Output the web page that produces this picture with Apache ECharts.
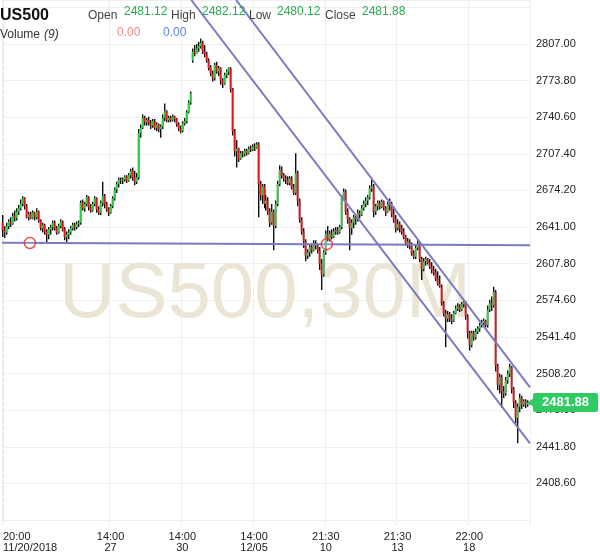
<!DOCTYPE html>
<html><head><meta charset="utf-8">
<script src="https://cdn.jsdelivr.net/npm/echarts@6/dist/echarts.min.js"></script>
<style>html,body{margin:0;padding:0;background:#fff}#c{width:600px;height:558px}</style>
</head><body><div id="c"></div>
<script>
const symbolName = 'US500';
const timeframe = '30M';
// x-axis tick labels (candle index, time line, date line)
const tickIndex = [0, 54, 90, 126, 162, 198, 234];
const tickTime = ['20:00', '14:00', '14:00', '14:00', '21:30', '21:30', '22:00'];
const tickDate = ['11/20/2018', '27', '30', '12/05', '10', '13', '18'];
// y-axis ticks
const yMin = 2375.4, yMax = 2846.9, yStep = 33.2;
// candles: [open, close, low, high]
const candles = [
[2645,2638,2632,2652],[2638,2636,2631,2642],[2636,2642,2634,2645],[2642,2646,2639,2648],[2646,2644,2641,2650],
[2644,2651,2643,2654],[2651,2649,2646,2656],[2649,2655,2647,2658],[2655,2658,2652,2661],[2658,2662,2656,2666],
[2662,2667,2660,2669],[2667,2660,2657,2668],[2660,2650,2649,2662],[2650,2653,2647,2655],[2653,2649,2648,2655],
[2649,2654,2648,2656],[2654,2650,2647,2655],[2650,2655,2648,2658],[2655,2647,2645,2656],[2647,2640,2638,2648],
[2640,2643,2636,2645],[2643,2637,2634,2644],[2637,2634,2627,2639],[2634,2639,2630,2641],[2639,2641,2634,2643],
[2641,2645,2638,2647],[2645,2640,2638,2647],[2640,2636,2634,2642],[2636,2642,2635,2644],[2642,2646,2640,2648],
[2646,2639,2637,2647],[2639,2632,2629,2641],[2632,2634,2626,2637],[2634,2636,2630,2639],[2636,2640,2634,2642],
[2640,2643,2638,2645],[2643,2641,2638,2645],[2641,2644,2639,2646],[2644,2645,2641,2647],[2645,2663,2643,2665],
[2663,2658,2656,2666],[2658,2662,2655,2664],[2662,2668,2660,2670],[2668,2659,2656,2669],[2659,2656,2654,2662],
[2656,2662,2655,2664],[2662,2667,2660,2669],[2667,2657,2654,2668],[2657,2654,2652,2660],[2654,2663,2652,2665],
[2663,2669,2660,2682],[2669,2662,2658,2671],[2662,2657,2655,2664],[2657,2654,2651,2659],[2654,2660,2653,2662],
[2660,2667,2658,2669],[2667,2675,2665,2677],[2675,2680,2672,2682],[2680,2684,2677,2686],[2684,2683,2680,2686],
[2683,2684,2680,2686],[2684,2687,2682,2688],[2687,2683,2681,2688],[2683,2688,2682,2690],[2688,2692,2685,2694],
[2692,2686,2683,2695],[2686,2682,2679,2692],[2682,2686,2680,2690],[2686,2726,2684,2730],[2726,2731,2722,2734],
[2731,2740,2730,2743],[2740,2736,2733,2742],[2736,2738,2733,2740],[2738,2735,2733,2741],[2735,2733,2730,2738],
[2733,2737,2731,2739],[2737,2731,2729,2739],[2731,2734,2728,2736],[2734,2730,2727,2735],[2730,2732,2722,2734],
[2732,2740,2730,2743],[2740,2746,2737,2753],[2746,2738,2736,2747],[2738,2740,2736,2742],[2740,2738,2736,2742],
[2738,2741,2737,2743],[2741,2739,2736,2742],[2739,2734,2732,2740],[2734,2730,2728,2736],[2730,2728,2726,2733],
[2728,2735,2727,2737],[2735,2737,2733,2740],[2737,2745,2735,2747],[2745,2754,2744,2756],[2754,2762,2752,2764],
[2792,2800,2790,2803],[2800,2798,2796,2806],[2798,2803,2798,2807],[2803,2805,2800,2809],[2805,2808,2803,2812],
[2808,2800,2798,2810],[2800,2798,2795,2806],[2798,2792,2790,2800],[2792,2785,2783,2794],[2785,2780,2778,2788],
[2780,2776,2773,2783],[2776,2788,2774,2790],[2788,2782,2780,2791],[2782,2785,2778,2787],[2785,2774,2770,2786],
[2774,2771,2767,2776],[2771,2779,2770,2781],[2779,2782,2776,2784],[2782,2785,2779,2786],[2785,2766,2763,2786],
[2766,2728,2724,2767],[2728,2710,2705,2730],[2710,2712,2695,2720],[2712,2703,2700,2713],[2703,2708,2702,2710],
[2708,2707,2704,2710],[2707,2710,2705,2712],[2710,2708,2706,2712],[2708,2712,2707,2714],[2712,2711,2709,2715],
[2711,2714,2710,2716],[2714,2713,2710,2717],[2713,2716,2712,2718],[2716,2680,2650,2718],[2680,2670,2665,2683],
[2670,2678,2662,2680],[2678,2662,2658,2680],[2662,2665,2656,2670],[2665,2655,2652,2668],[2655,2645,2641,2658],
[2645,2655,2643,2662],[2655,2642,2620,2657],[2642,2662,2640,2665],[2662,2680,2660,2683],[2680,2693,2678,2697],
[2693,2688,2685,2696],[2688,2685,2682,2690],[2685,2684,2680,2688],[2684,2681,2679,2687],[2681,2685,2679,2687],
[2685,2677,2675,2687],[2677,2672,2670,2680],[2672,2690,2670,2708],[2690,2665,2660,2692],[2665,2648,2645,2667],
[2648,2637,2634,2650],[2637,2628,2622,2640],[2628,2615,2610,2630],[2615,2618,2612,2621],[2618,2623,2614,2625],
[2623,2620,2617,2626],[2620,2626,2619,2629],[2626,2624,2621,2629],[2624,2620,2617,2626],[2620,2608,2602,2623],
[2608,2598,2584,2612],[2598,2618,2596,2620],[2618,2635,2616,2638],[2635,2630,2628,2642],[2630,2635,2628,2638],
[2635,2632,2630,2639],[2632,2637,2631,2640],[2637,2638,2634,2641],[2638,2636,2634,2641],[2636,2641,2635,2643],
[2641,2667,2639,2670],[2667,2673,2665,2676],[2673,2655,2652,2675],[2655,2648,2644,2658],[2648,2640,2620,2650],
[2640,2645,2634,2648],[2645,2650,2640,2652],[2650,2648,2643,2652],[2648,2654,2646,2657],[2654,2652,2649,2656],
[2652,2658,2651,2661],[2658,2662,2656,2665],[2662,2665,2659,2668],[2665,2668,2661,2670],[2668,2676,2666,2679],
[2676,2678,2673,2684],[2678,2655,2650,2680],[2655,2660,2652,2662],[2660,2663,2656,2665],[2663,2659,2657,2665],
[2659,2664,2658,2666],[2664,2658,2656,2665],[2658,2655,2651,2660],[2655,2662,2654,2664],[2662,2660,2656,2667],
[2660,2653,2650,2664],[2653,2648,2645,2660],[2648,2640,2636,2652],[2640,2644,2638,2648],[2644,2640,2636,2646],
[2640,2637,2634,2643],[2637,2632,2630,2640],[2632,2626,2624,2634],[2626,2628,2622,2631],[2628,2625,2621,2630],
[2625,2617,2615,2627],[2617,2614,2612,2620],[2614,2622,2612,2625],[2622,2626,2620,2629],[2626,2612,2609,2627],
[2612,2603,2593,2614],[2603,2610,2601,2613],[2610,2612,2606,2614],[2612,2609,2607,2613],[2609,2605,2603,2612],
[2605,2602,2599,2609],[2602,2600,2597,2606],[2600,2594,2592,2603],[2594,2590,2588,2601],[2590,2587,2586,2597],
[2587,2572,2570,2589],[2572,2563,2560,2574],[2563,2558,2532,2566],[2558,2562,2555,2565],[2562,2558,2555,2564],
[2558,2556,2553,2562],[2556,2563,2555,2565],[2563,2567,2562,2570],[2567,2569,2565,2572],[2569,2566,2564,2571],
[2566,2571,2565,2573],[2571,2573,2568,2575],[2573,2560,2557,2574],[2560,2545,2540,2562],[2545,2534,2529,2547],
[2534,2545,2532,2547],[2545,2541,2538,2547],[2541,2546,2539,2549],[2546,2549,2544,2551],[2549,2552,2546,2554],
[2552,2554,2550,2557],[2554,2556,2551,2558],[2556,2552,2550,2557],[2552,2566,2550,2570],[2566,2572,2564,2575],
[2572,2570,2565,2578],[2570,2582,2568,2587],[2582,2515,2510,2584],[2515,2498,2493,2517],[2498,2505,2490,2508],
[2505,2492,2477,2507],[2492,2490,2486,2497],[2490,2502,2488,2505],[2502,2508,2499,2511],[2508,2514,2505,2517],
[2514,2494,2490,2515],[2494,2482,2477,2496],[2482,2468,2463,2484],[2468,2478,2445,2481],[2478,2486,2473,2490],
[2486,2480,2476,2488],[2480,2483,2478,2485],[2483,2480,2477,2485],[2480,2482,2478,2484],[2481.12,2481.88,2480.12,2482.12]
];
// drawn annotations: [candle index, price]
const trendA = [[94.5, 2846.9], [264.5, 2444.8]];
const trendB = [[117, 2846.9], [264.5, 2495.7]];
const hLine = [[-0.5, 2626.8], [264.5, 2624.5]];
const circles = [[13.5, 2626.6], [162.5, 2625.5]];

const last = candles[candles.length - 1];
const categories = candles.map((_, i) => String(i));
const candleRows = candles.map((c, i) => [i, c[0], c[1], c[2], c[3]]);
const showTick = (i) => tickIndex.indexOf(i) >= 0;

const UP = '#2ecc40', DOWN = '#e8141b', WICK = '#111', TXTGREEN = '#2aa952', LINE = '#7b7bc2', TAG = '#2fcb62';
const chart = echarts.init(document.getElementById('c'), null, {renderer: 'canvas'});
const hdr = (x, y, text, fill, font) => ({type: 'text', x, y, z: 100,
  style: {text, fill, font: font || '12px Arial', textBaseline: 'middle', textAlign: 'left'}});

function renderCandle(params, api) {
  const i = api.value(0), o = api.value(1), c = api.value(2), l = api.value(3), h = api.value(4);
  const po = api.coord([i, o]), pc = api.coord([i, c]), pl = api.coord([i, l]), ph = api.coord([i, h]);
  const x = Math.floor(po[0]);
  const top = Math.min(po[1], pc[1]), bot = Math.max(po[1], pc[1]);
  return {type: 'group', children: [
    {type: 'rect', shape: {x: x, y: ph[1], width: 1.4, height: Math.max(1, pl[1] - ph[1])}, style: {fill: WICK}},
    {type: 'rect', shape: {x: x - 0.4, y: top, width: 1.8, height: Math.max(1, bot - top)}, style: {fill: c >= o ? UP : DOWN}}
  ]};
}

chart.setOption({
  animation: false,
  grid: {left: 0, right: 70, top: 0, bottom: 38},
  xAxis: [{
    type: 'category', data: categories, boundaryGap: true,
    axisLine: {show: false},
    axisTick: {show: true, interval: (i) => showTick(i), length: 6, lineStyle: {color: '#eeeeee'}},
    axisLabel: {
      interval: (i) => showTick(i),
      formatter: (v, i) => { const k = tickIndex.indexOf(Number(v)); return k < 0 ? '' : tickTime[k] + '\n' + tickDate[k]; },
      color: '#222', fontSize: 11, lineHeight: 11, margin: 11, fontFamily: 'Arial', alignMinLabel: 'left'
    },
    splitLine: {show: true, interval: (i) => showTick(i), lineStyle: {color: '#efefef', width: 1}}
  }, {
    type: 'value', min: -0.5, max: candles.length - 0.5, show: false
  }],
  yAxis: {
    type: 'value', position: 'right', min: yMin, max: yMax, interval: yStep,
    axisLine: {show: true, lineStyle: {color: '#e4e4e4', type: 'dashed'}},
    axisTick: {show: false},
    axisLabel: {
      showMaxLabel: false, showMinLabel: false, margin: 6, color: '#222', fontSize: 11, fontFamily: 'Arial',
      formatter: (v) => (v > 2400 && v < 2830) ? v.toFixed(2) : ''
    },
    splitLine: {show: true, lineStyle: {color: '#efefef', width: 1}}
  },
  graphic: [
    {type: 'text', x: 265, y: 256, z: 1, silent: true,
     style: {text: symbolName + ',' + timeframe, font: '78px Arial', fill: '#ebe5d6', textAlign: 'center', textBaseline: 'middle'}},
    hdr(0, 8, symbolName, '#111', 'bold 16px Arial'),
    hdr(88, 10, 'Open', '#444'), hdr(124, 6, last[0].toFixed(2), TXTGREEN),
    hdr(171, 10, 'High', '#444'), hdr(202, 6, last[3].toFixed(2), TXTGREEN),
    hdr(249, 10, 'Low', '#444'), hdr(277, 6, last[2].toFixed(2), TXTGREEN),
    hdr(325, 10, 'Close', '#444'), hdr(362, 6, last[1].toFixed(2), TXTGREEN),
    hdr(0, 29, 'Volume', '#333'), hdr(44, 29, '(9)', '#333', 'italic 12px Arial'),
    hdr(117, 27, '0.00', '#f08c8c'), hdr(163, 27, '0.00', '#5b87e0')
  ],
  series: [
    {type: 'custom', name: 'US500', data: candleRows, renderItem: renderCandle, z: 3,
     encode: {x: 0, y: [1, 2, 3, 4]},
     markLine: {silent: true, symbol: ['none', 'none'], z: 20,
       lineStyle: {color: 'rgba(0,0,0,0)', width: 0},
       data: [{yAxis: last[1]}],
       label: {show: true, position: 'end', distance: 3, formatter: last[1].toFixed(2), color: '#fff',
         backgroundColor: TAG, fontSize: 13, fontWeight: 'bold', fontFamily: 'Arial', padding: [3, 9, 3, 9], borderRadius: 2}},
     markPoint: {silent: true, symbol: 'triangle', symbolSize: [10, 7], symbolRotate: 90, symbolOffset: [2, 0],
       itemStyle: {color: TAG}, label: {show: false},
       data: [{coord: [String(candles.length - 1), last[1]]}]}},
    {type: 'line', xAxisIndex: 1, data: trendA, symbol: 'none', z: 5, lineStyle: {color: LINE, width: 2}},
    {type: 'line', xAxisIndex: 1, data: trendB, symbol: 'none', z: 5, lineStyle: {color: LINE, width: 2}},
    {type: 'line', xAxisIndex: 1, data: hLine, symbol: 'none', z: 5, lineStyle: {color: LINE, width: 2}},
    {type: 'scatter', xAxisIndex: 1, data: circles, symbol: 'circle', symbolSize: 11, z: 6,
     itemStyle: {color: 'rgba(255,255,255,0.2)', borderColor: '#e5262b', borderWidth: 1.5}}
  ]
});
</script></body></html>
